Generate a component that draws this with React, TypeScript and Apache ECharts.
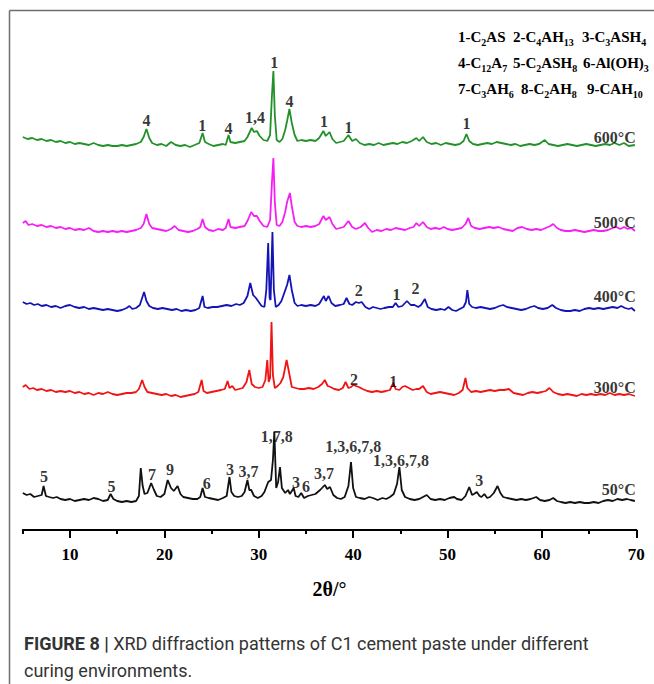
import React, { useEffect, useRef } from "react";
import * as echarts from "echarts";

// ---------- data (2θ in degrees, intensity in arbitrary units relative to each pattern's baseline) ----------
const seriesNames = ["600°C", "500°C", "400°C", "300°C", "50°C"];
const seriesColors = ["#23912a", "#f51ef5", "#1414b4", "#f01414", "#111111"];
// vertical stacking offsets of the patterns (a.u.)
const stackOffsets = [385, 300, 220, 140, 30];

const pattern600: number[][] = [
  [5.0, 8], [5.5, 6], [6.0, 7], [6.5, 5], [7.0, 6], [7.5, 4], [8.0, 5], [8.5, 3], [9.0, 4], [9.5, 2], [10.0, 3], [10.5, 1],
  [11.0, 2], [11.5, 1], [12.0, 0], [12.5, 2], [13.0, 0], [13.5, -1], [14.0, 0], [14.5, -1], [15.0, -1], [15.5, 0], [16.0, -1],
  [16.5, 0], [17.0, 1], [17.5, 3], [17.8, 8], [18.1, 16], [18.4, 7], [18.7, 2], [19.2, 0], [19.7, 1], [20.2, -1], [20.7, 3],
  [21.2, 0], [21.7, -1], [22.2, 0], [22.7, -2], [23.2, 0], [23.7, 2], [24.05, 12], [24.3, 3], [24.7, 1], [25.2, -1], [25.7, 0],
  [26.2, 1], [26.5, 0], [26.8, 10], [27.0, 3], [27.5, 2], [28.0, 3], [28.5, 4], [28.8, 8], [29.25, 17], [29.5, 13], [29.8, 14],
  [30.1, 9], [30.5, 5], [30.9, 4], [31.2, 10], [31.4, 50], [31.55, 74], [31.7, 30], [31.9, 5], [32.2, 3], [32.5, 6], [32.8, 15],
  [33.0, 24], [33.25, 36], [33.5, 22], [33.8, 10], [34.1, 4], [34.5, 5], [35.0, 4], [35.5, 5], [36.0, 4], [36.4, 7], [36.85, 14],
  [37.1, 9], [37.5, 13], [37.8, 6], [38.2, 2], [38.6, 3], [39.0, 4], [39.5, 10], [39.9, 4], [40.3, 6], [40.7, 2], [41.2, 0],
  [41.7, 1], [42.2, 0], [42.7, 2], [43.2, 0], [43.7, 1], [44.2, 2], [44.7, 1], [45.2, 3], [45.7, 2], [46.2, 4], [46.7, 7],
  [47.0, 4], [47.4, 8], [47.8, 3], [48.3, 1], [48.8, 2], [49.3, 0], [49.8, 2], [50.3, 1], [50.8, 0], [51.3, 1], [51.7, 4],
  [52.0, 11], [52.3, 4], [52.7, 1], [53.2, 0], [53.7, 1], [54.2, 2], [54.7, 1], [55.2, 3], [55.7, 2], [56.2, 1], [56.7, 0],
  [57.2, 1], [57.7, -1], [58.2, 0], [58.7, 1], [59.2, 0], [59.7, 1], [60.3, 5], [60.7, 1], [61.2, 0], [61.7, -1], [62.2, 0],
  [62.7, 1], [63.2, 0], [63.7, -1], [64.2, 0], [64.7, 1], [65.2, 0], [65.7, -1], [66.2, 0], [66.7, 1], [67.2, 0], [67.7, 2],
  [68.2, 0], [68.7, 2], [69.2, -1], [69.85, 0],
];

const pattern500: number[][] = [
  [5.0, 7], [5.3, 9], [5.6, 5], [6.0, 6], [6.5, 4], [7.0, 5], [7.5, 3], [8.0, 4], [8.5, 2], [9.0, 3], [9.5, 1], [10.0, 2],
  [10.5, 0], [11.0, 1], [11.5, 0], [12.0, 2], [12.5, -1], [13.0, -2], [13.5, -1], [14.0, -2], [14.5, -1], [15.0, -2],
  [15.5, -1], [16.0, -2], [16.5, -1], [17.0, 0], [17.5, 2], [17.8, 6], [18.1, 16], [18.4, 6], [18.7, 2], [19.2, 1], [19.7, 0],
  [20.2, -1], [20.7, 1], [21.1, 4], [21.5, 0], [22.0, -1], [22.5, -2], [23.0, -1], [23.5, 1], [23.8, 3], [24.05, 11],
  [24.3, 3], [24.7, 0], [25.2, -1], [25.7, 1], [26.2, 0], [26.5, 2], [26.8, 11], [27.0, 3], [27.5, 2], [28.0, 3], [28.5, 4],
  [28.8, 9], [29.2, 18], [29.5, 14], [29.8, 14], [30.1, 9], [30.5, 4], [30.9, 3], [31.2, 10], [31.4, 48], [31.55, 72],
  [31.7, 28], [31.9, 5], [32.2, 4], [32.5, 8], [32.8, 18], [33.0, 28], [33.3, 37], [33.5, 24], [33.8, 8], [34.1, 4], [34.5, 3],
  [35.0, 4], [35.5, 3], [36.0, 4], [36.4, 6], [36.85, 14], [37.1, 10], [37.5, 13], [37.8, 6], [38.2, 1], [38.6, 2], [39.0, 3],
  [39.5, 9], [39.9, 3], [40.3, 1], [40.8, 3], [41.25, 7], [41.6, 2], [42.0, -2], [42.5, 0], [43.0, -1], [43.5, 1], [44.0, 0],
  [44.5, 2], [45.0, 1], [45.5, 0], [46.0, 2], [46.4, 3], [46.7, 7], [47.0, 4], [47.4, 8], [47.8, 3], [48.2, 1], [48.7, 2],
  [49.2, 1], [49.6, 3], [50.0, 1], [50.5, 0], [51.0, 1], [51.5, 2], [51.9, 6], [52.2, 12], [52.5, 4], [52.9, 2], [53.4, 1],
  [53.9, 2], [54.4, 3], [54.9, 2], [55.4, 3], [55.9, 1], [56.4, 0], [56.9, -1], [57.4, 2], [57.9, 3], [58.4, 1], [58.9, 0],
  [59.4, 1], [59.9, 0], [60.4, 2], [60.9, 4], [61.2, 6], [61.6, 2], [62.0, 0], [62.5, -1], [63.0, -1], [63.5, 0], [64.0, -1],
  [64.5, -2], [65.0, -1], [65.5, 0], [66.0, -1], [66.5, -1], [67.0, 0], [67.5, 2], [67.9, 3], [68.3, 1], [68.7, 3], [69.1, 1],
  [69.5, 2], [69.85, -1],
];

const pattern400: number[][] = [
  [5.0, 8], [5.4, 6], [5.8, 7], [6.2, 5], [6.6, 6], [7.0, 4], [7.5, 5], [8.0, 3], [8.5, 4], [9.0, 2], [9.5, 4], [10.0, 5],
  [10.5, 3], [11.0, 2], [11.5, 3], [12.0, 1], [12.5, 2], [13.0, 1], [13.5, 0], [14.0, 1], [14.5, 0], [15.0, -1], [15.5, 0],
  [16.0, 2], [16.3, 4], [16.6, 1], [17.0, 2], [17.4, 5], [17.85, 18], [18.1, 9], [18.4, 4], [18.8, 2], [19.3, 1], [19.8, 2],
  [20.3, 1], [20.8, 0], [21.3, 1], [21.8, -1], [22.3, 0], [22.8, -1], [23.3, 0], [23.7, 2], [24.05, 14], [24.25, 3], [24.6, 2],
  [25.1, 3], [25.6, 3], [26.1, 4], [26.6, 5], [27.1, 4], [27.6, 6], [28.0, 5], [28.4, 7], [28.8, 14], [29.1, 27], [29.4, 15],
  [29.7, 12], [30.0, 8], [30.3, 4], [30.6, 3], [30.8, 20], [31.0, 67], [31.15, 12], [31.25, 10], [31.45, 78], [31.6, 20],
  [31.8, 3], [32.1, 5], [32.4, 9], [32.7, 17], [33.0, 25], [33.25, 35], [33.5, 20], [33.8, 7], [34.1, 4], [34.5, 5], [35.0, 4],
  [35.5, 5], [36.0, 4], [36.4, 6], [36.9, 14], [37.1, 9], [37.4, 14], [37.7, 7], [38.1, 4], [38.6, 5], [39.0, 6], [39.3, 12],
  [39.6, 6], [39.9, 5], [40.3, 8], [40.6, 7], [40.9, 8], [41.3, 3], [41.7, 1], [42.1, 3], [42.5, 2], [42.9, 1], [43.3, 2],
  [43.8, 3], [44.2, 3], [44.5, 7], [44.8, 3], [45.2, 4], [45.7, 9], [46.1, 5], [46.5, 5], [46.9, 3], [47.2, 5], [47.6, 11],
  [47.9, 3], [48.3, 1], [48.8, 0], [49.3, 1], [49.7, 0], [50.1, 3], [50.5, 0], [50.9, -1], [51.3, 1], [51.7, 3], [51.95, 8],
  [52.1, 20], [52.3, 6], [52.6, 3], [53.0, 2], [53.5, 3], [54.0, 2], [54.5, 1], [55.0, 2], [55.5, 4], [55.9, 5], [56.3, 3],
  [56.8, 2], [57.3, 1], [57.8, 0], [58.3, 1], [58.8, 3], [59.2, 4], [59.6, 2], [60.1, 1], [60.6, 2], [61.1, 5], [61.5, 2],
  [62.0, 0], [62.5, -1], [63.0, -1], [63.5, 0], [64.0, -1], [64.5, 1], [65.0, 2], [65.5, 1], [66.0, 2], [66.5, 1], [67.0, 2],
  [67.5, 3], [68.0, 2], [68.4, 4], [68.8, 2], [69.2, 1], [69.5, 2], [69.85, -1],
];

const pattern300: number[][] = [
  [5.0, 3], [5.3, 5], [5.7, 1], [6.1, 2], [6.5, 0], [7.0, 1], [7.5, -1], [8.0, 0], [8.5, -2], [9.0, -1], [9.5, -2],
  [10.0, -1], [10.5, -3], [11.0, -2], [11.5, -4], [12.0, -3], [12.5, -5], [13.0, -3], [13.5, -4], [14.0, -2], [14.5, -4],
  [15.0, -5], [15.5, -4], [16.0, -3], [16.5, -3], [17.0, -2], [17.3, 1], [17.65, 10], [17.9, 3], [18.2, -2], [18.7, -3],
  [19.2, -4], [19.7, -5], [20.2, -4], [20.7, -6], [21.2, -5], [21.7, -7], [22.2, -6], [22.7, -5], [23.2, -4], [23.6, -2],
  [23.95, 10], [24.15, -1], [24.5, -3], [25.0, -2], [25.5, -1], [26.0, 0], [26.4, 1], [26.7, 9], [26.9, 2], [27.2, 4],
  [27.5, 0], [27.9, 1], [28.3, 2], [28.7, 8], [29.0, 20], [29.25, 6], [29.6, 3], [30.0, 2], [30.4, 3], [30.7, 10], [30.9, 30],
  [31.05, 8], [31.2, 12], [31.35, 68], [31.5, 15], [31.7, 2], [32.0, 4], [32.3, 7], [32.6, 13], [32.95, 30], [33.2, 18],
  [33.5, 3], [33.9, 2], [34.3, 1], [34.8, 1], [35.3, 2], [35.8, 1], [36.3, 3], [36.7, 6], [37.0, 10], [37.3, 4], [37.6, 3],
  [38.0, 1], [38.5, 0], [38.9, 2], [39.2, 8], [39.5, 2], [39.8, 3], [40.0, 5], [40.3, 4], [40.6, 3], [41.0, 1], [41.5, -1],
  [42.0, -2], [42.5, -1], [43.0, -2], [43.5, -1], [43.9, 0], [44.25, 7], [44.5, 1], [44.9, 0], [45.2, 3], [45.5, 4], [45.9, 2],
  [46.3, 0], [46.7, 1], [47.0, 1], [47.4, 4], [47.8, -2], [48.2, -4], [48.7, -3], [49.2, -2], [49.7, -3], [50.2, -4],
  [50.7, -5], [51.2, -3], [51.6, 0], [51.9, 12], [52.1, 2], [52.5, -2], [53.0, -1], [53.5, -2], [54.0, -1], [54.5, 0],
  [55.0, -1], [55.5, 0], [56.0, 0], [56.5, 1], [57.0, -3], [57.5, -4], [58.0, -5], [58.5, -3], [59.0, -2], [59.5, -3],
  [60.0, -2], [60.4, -1], [60.8, 2], [61.2, -2], [61.7, -4], [62.2, -5], [62.7, -4], [63.2, -5], [63.7, -6], [64.2, -4],
  [64.7, -5], [65.2, -4], [65.7, -5], [66.2, -4], [66.7, -5], [67.2, -3], [67.7, -5], [68.2, -4], [68.7, -5], [69.2, -4],
  [69.85, -6],
];

const pattern50: number[][] = [
  [5.0, 7], [5.4, 5], [5.8, 6], [6.2, 3], [6.6, 4], [7.0, 5], [7.2, 14], [7.45, 4], [7.8, 3], [8.2, 2], [8.6, 3], [9.0, 1],
  [9.5, 0], [10.0, 1], [10.5, -1], [11.0, 0], [11.5, 1], [12.0, 0], [12.5, 2], [13.0, 1], [13.5, -1], [14.0, 0], [14.3, 6],
  [14.6, 1], [15.0, -1], [15.5, -2], [16.0, -1], [16.5, -2], [17.0, -1], [17.3, 4], [17.5, 32], [17.7, 14], [17.9, 6],
  [18.2, 7], [18.6, 17], [18.9, 10], [19.2, 4], [19.6, 3], [20.0, 6], [20.35, 20], [20.7, 12], [21.0, 9], [21.4, 14],
  [21.7, 6], [22.0, 3], [22.5, 2], [23.0, 1], [23.5, 1], [23.8, 3], [24.05, 12], [24.3, 3], [24.7, 2], [25.2, 1], [25.7, 0],
  [26.2, 2], [26.6, 4], [26.9, 23], [27.1, 8], [27.4, 4], [27.8, 3], [28.2, 4], [28.5, 8], [28.8, 20], [29.0, 10], [29.2, 10],
  [29.5, 4], [29.9, 2], [30.3, 4], [30.6, 8], [31.0, 18], [31.3, 20], [31.5, 40], [31.65, 68], [31.85, 12], [32.05, 18],
  [32.25, 33], [32.45, 12], [32.8, 7], [33.1, 10], [33.3, 6], [33.7, 12], [33.9, 4], [34.2, 3], [34.5, 7], [34.8, 2],
  [35.2, 4], [35.6, 5], [36.0, 6], [36.5, 10], [37.0, 15], [37.25, 11], [37.55, 13], [37.9, 5], [38.3, 2], [38.7, 1],
  [39.1, 3], [39.5, 14], [39.77, 38], [40.0, 12], [40.3, 3], [40.7, 2], [41.2, 1], [41.7, 3], [42.1, 2], [42.6, 0], [43.1, 2],
  [43.5, 1], [43.9, 3], [44.3, 6], [44.65, 16], [44.9, 33], [45.15, 10], [45.5, 3], [46.0, 1], [46.5, 0], [47.0, 1], [47.4, 3],
  [47.8, 5], [48.2, 1], [48.7, 0], [49.2, 1], [49.7, 0], [50.2, 2], [50.7, 3], [51.0, 1], [51.5, 0], [51.9, 4], [52.3, 13],
  [52.6, 5], [52.8, 6], [53.1, 8], [53.4, 4], [53.6, 3], [53.9, 6], [54.2, 2], [54.5, 3], [54.9, 7], [55.3, 14], [55.6, 7],
  [55.9, 3], [56.3, 2], [56.8, 1], [57.3, 0], [57.8, 1], [58.3, 0], [58.8, 1], [59.4, 3], [59.8, 0], [60.3, -1], [60.8, 0],
  [61.2, 2], [61.6, -1], [62.0, -2], [62.5, -3], [63.0, -2], [63.5, -3], [64.0, -2], [64.5, -3], [65.0, -3], [65.5, -2],
  [66.0, -3], [66.5, -1], [67.0, 0], [67.5, -1], [68.0, 1], [68.5, 0], [69.0, 1], [69.4, 0], [69.85, -1],
];

const patterns = [pattern600, pattern500, pattern400, pattern300, pattern50];

// peak identification labels: [2θ, height above baseline (a.u.), phase numbers]
const peaks600: [number, number, string][] = [
  [18.1, 25, "4"], [24.0, 20, "1"], [26.8, 17, "4"], [29.6, 28, "1,4"], [31.65, 83, "1"], [33.25, 44, "4"],
  [36.9, 24, "1"], [39.5, 18, "1"], [52.0, 22, "1"],
];
const peaks500: [number, number, string][] = [];
const peaks400: [number, number, string][] = [[40.6, 20, "2"], [44.6, 16, "1"], [46.6, 22, "2"]];
const peaks300: [number, number, string][] = [[40.1, 11, "2"], [44.25, 9, "1"]];
const peaks50: [number, number, string][] = [
  [7.25, 24, "5"], [14.4, 14, "5"], [18.7, 26, "7"], [20.6, 31, "9"], [24.5, 17, "6"], [26.95, 31, "3"], [28.9, 29, "3,7"],
  [31.9, 64, "1,7,8"], [33.95, 18, "3"], [35.0, 14, "6"], [36.9, 27, "3,7"], [40.0, 54, "1,3,6,7,8"],
  [45.06, 40, "1,3,6,7,8"], [53.35, 20, "3"],
];
const peakLabels = [peaks600, peaks500, peaks400, peaks300, peaks50];
// where each temperature tag sits (2θ of its right end, height above baseline)
const nameTags: [number, number][] = [[70, 8], [70, 8], [70, 14], [70, 3], [70, 11]];

// phase key, three rows of three entries ( _{..} = subscript )
const phaseLegend: string[][] = [
  ["1-C_{2}AS", "2-C_{4}AH_{13}", "3-C_{3}ASH_{4}"],
  ["4-C_{12}A_{7}", "5-C_{2}ASH_{8}", "6-Al(OH)_{3}"],
  ["7-C_{3}AH_{6}", "8-C_{2}AH_{8}", "9-CAH_{10}"],
];

const xTicksMajor = { min: 10, max: 70, step: 10 };
const xRange = { min: 5, max: 70, step: 5 };
const xAxisTitle = "2θ/°";
const captionBold = "FIGURE 8 |";
const captionLine1 = " XRD diffraction patterns of C1 cement paste under different";
const captionLine2 = "curing environments.";

// ---------- component ----------
const SERIF = "'Liberation Serif', 'DejaVu Serif', serif";
const SANS = "'Roboto', 'Liberation Sans', sans-serif";

function toRich(s: string): string {
  const parts = s.split(/_\{([^}]*)\}/);
  let out = "";
  parts.forEach((p, i) => {
    if (!p) return;
    out += i % 2 === 0 ? `{n|${p}}` : `{s|${p}}`;
  });
  return out;
}

export default function App() {
  const ref = useRef<HTMLDivElement>(null);
  useEffect(() => {
    document.body.style.margin = "0";
    if (!ref.current) return;
    const chart = echarts.init(ref.current, undefined, { renderer: "svg" });

    const gridLeft = 22.8;
    const gridRight = 17.7;
    const gridTop = 20;
    const gridBottom = 154;

    const lineSeries: any[] = patterns.map((p, i) => ({
      type: "line",
      xAxisIndex: 0,
      yAxisIndex: 0,
      data: p.map(([x, y]) => [x, y + stackOffsets[i]]),
      showSymbol: false,
      symbol: "none",
      lineStyle: { color: seriesColors[i], width: 1.8 },
      z: 2 + (5 - i),
      silent: true,
    }));

    const labelSeries: any[] = peakLabels.map((pl, i) => ({
      type: "scatter",
      xAxisIndex: 0,
      yAxisIndex: 0,
      symbolSize: 1,
      itemStyle: { color: "rgba(0,0,0,0)" },
      silent: true,
      z: 10,
      label: {
        show: true,
        position: "inside",
        formatter: "{b}",
        color: "#000",
        fontFamily: SERIF,
        fontWeight: "bold",
        fontSize: 16,
      },
      data: pl.map(([x, h, t]) => ({ name: t, value: [x, h + stackOffsets[i]] })),
    }));

    const tagSeries: any = {
      type: "scatter",
      xAxisIndex: 0,
      yAxisIndex: 0,
      symbolSize: 1,
      itemStyle: { color: "rgba(0,0,0,0)" },
      silent: true,
      clip: false,
      z: 10,
      label: {
        show: true,
        position: "left",
        distance: 0,
        formatter: "{b}",
        color: "#000",
        fontFamily: SERIF,
        fontWeight: "bold",
        fontSize: 16,
      },
      data: nameTags.map(([x, h], i) => ({ name: seriesNames[i], value: [x, h + stackOffsets[i]] })),
    };

    const legendColX = [
      [458, 513, 582],
      [458, 513, 583],
      [458, 521, 587],
    ];
    const legendY = [37, 63, 89];

    const legendItems: any[] = [];
    phaseLegend.forEach((row, r) =>
      row.forEach((item, c) =>
        legendItems.push({
          type: "text",
          x: legendColX[r][c],
          y: legendY[r],
          style: {
            text: toRich(item),
            align: "left",
            verticalAlign: "middle",
            fill: "#000",
            rich: {
              n: { fontFamily: SERIF, fontWeight: "bold", fontSize: 15, lineHeight: 20, fill: "#000", verticalAlign: "middle" },
              s: { fontFamily: SERIF, fontWeight: "bold", fontSize: 10, fill: "#000", verticalAlign: "bottom" },
            },
          },
        })
      )
    );

    const graphic: any[] = [
      {
        type: "line",
        shape: { x1: 9.5, y1: 10.5, x2: 654, y2: 10.5 },
        style: { stroke: "#6e6e6e", lineWidth: 1.5 },
      },
      {
        type: "line",
        shape: { x1: 9.5, y1: 10.5, x2: 9.5, y2: 684 },
        style: { stroke: "#6e6e6e", lineWidth: 1.5 },
      },
      ...legendItems,
      {
        type: "text",
        x: 24,
        y: 643,
        style: {
          text: `{b|${captionBold}}{r|${captionLine1}}`,
          align: "left",
          verticalAlign: "middle",
          rich: {
            b: { fontFamily: SANS, fontWeight: "bold", fontSize: 18, fill: "#333" },
            r: { fontFamily: SANS, fontWeight: "normal", fontSize: 18, fill: "#333" },
          },
        },
      },
      {
        type: "text",
        x: 24,
        y: 670,
        style: {
          text: captionLine2,
          align: "left",
          verticalAlign: "middle",
          fontFamily: SANS,
          fontSize: 18,
          fill: "#333",
        },
      },
    ];

    chart.setOption({
      animation: false,
      backgroundColor: "#fff",
      grid: [
        { left: gridLeft, right: gridRight, top: gridTop, bottom: gridBottom, containLabel: false },
        { left: 70, right: gridRight, top: gridTop, bottom: gridBottom, containLabel: false },
      ],
      xAxis: [
        {
          type: "value",
          gridIndex: 0,
          min: xRange.min,
          max: xRange.max,
          interval: xRange.step,
          axisLine: { show: true, lineStyle: { color: "#000", width: 2 } },
          axisTick: { show: true, length: 4, lineStyle: { color: "#000", width: 2 } },
          axisLabel: { show: false },
          splitLine: { show: false },
          name: xAxisTitle,
          nameLocation: "middle",
          nameGap: 49,
          nameTextStyle: { fontFamily: SERIF, fontWeight: "bold", fontSize: 20, color: "#000" },
        },
        {
          type: "value",
          gridIndex: 1,
          min: xTicksMajor.min,
          max: xTicksMajor.max,
          interval: xTicksMajor.step,
          axisLine: { show: false },
          axisTick: { show: true, length: 8, lineStyle: { color: "#000", width: 2 } },
          axisLabel: { show: true, margin: 16, fontFamily: SERIF, fontWeight: "bold", fontSize: 17, color: "#000" },
          splitLine: { show: false },
        },
      ],
      yAxis: [
        { type: "value", gridIndex: 0, min: 0, max: 510, show: false },
        { type: "value", gridIndex: 1, min: 0, max: 510, show: false },
      ],
      series: [...lineSeries, ...labelSeries, tagSeries],
      graphic,
    });
    return () => chart.dispose();
  }, []);
  return <div ref={ref} style={{ width: 654, height: 684 }} />;
}
